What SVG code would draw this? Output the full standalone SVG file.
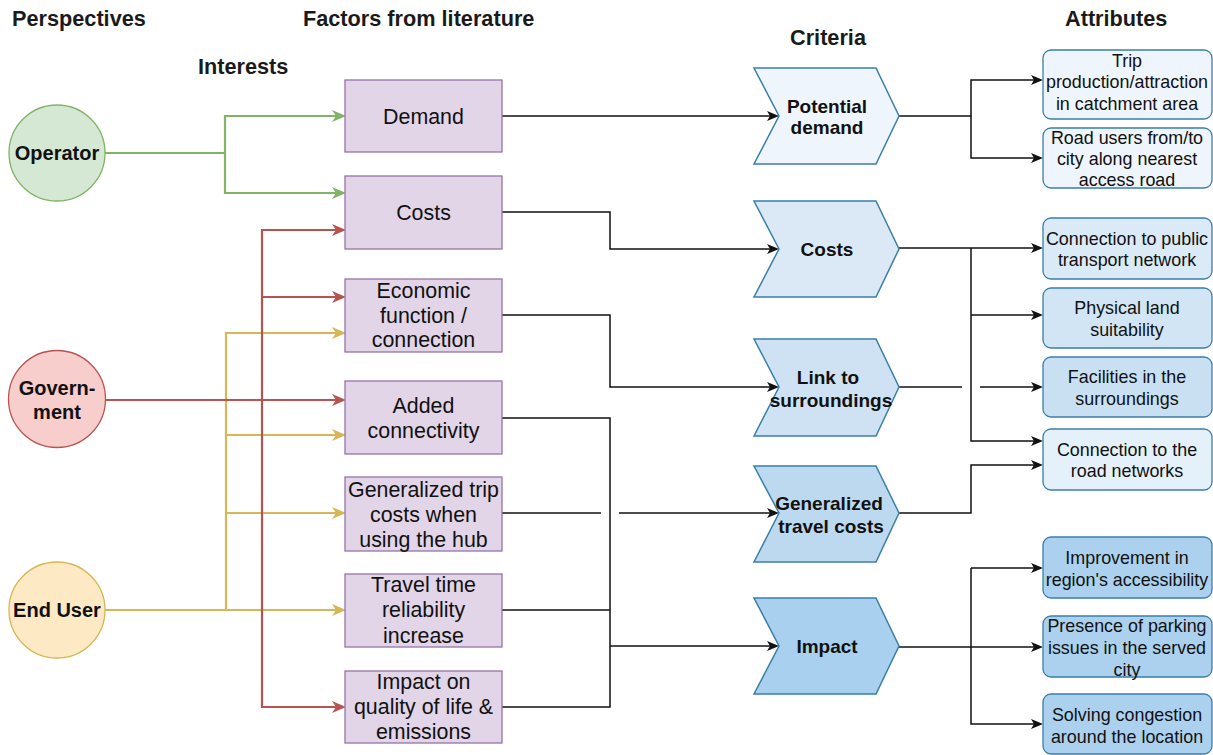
<svg xmlns="http://www.w3.org/2000/svg" width="1213" height="755" viewBox="0 0 1213 755">
<style>
.title{font-family:"Liberation Sans",Arial,sans-serif;font-weight:bold;font-size:21.7px;fill:#1a1a1a}
.circ{font-family:"Liberation Sans",Arial,sans-serif;font-weight:bold;font-size:20px;fill:#111;text-anchor:middle}
.fac{fill:#e1d5e7;stroke:#9673a6;stroke-width:1.3}
.factxt{font-family:"Liberation Sans",Arial,sans-serif;font-size:21.4px;fill:#111;text-anchor:middle}
.crit{stroke:#3b7fa7;stroke-width:1.5}
.crittxt{font-family:"Liberation Sans",Arial,sans-serif;font-weight:bold;font-size:19px;fill:#111;text-anchor:middle}
.att{stroke:#3b7fa7;stroke-width:1.3}
.atttxt{font-family:"Liberation Sans",Arial,sans-serif;font-size:17.9px;fill:#111;text-anchor:middle}
.g{fill:none;stroke:#82b366;stroke-width:2.2}
.r{fill:none;stroke:#b85450;stroke-width:2.2}
.y{fill:none;stroke:#d6b656;stroke-width:2.2}
.k{fill:none;stroke:#111;stroke-width:1.5}
</style>
<defs>
<marker id="ag" markerUnits="userSpaceOnUse" viewBox="0 0 14 12" markerWidth="14" markerHeight="12" refX="7" refY="6" orient="auto"><path d="M0,0 L14,6 L0,12 L4,6 z" fill="#82b366"/></marker>
<marker id="ar" markerUnits="userSpaceOnUse" viewBox="0 0 14 12" markerWidth="14" markerHeight="12" refX="7" refY="6" orient="auto"><path d="M0,0 L14,6 L0,12 L4,6 z" fill="#b85450"/></marker>
<marker id="ay" markerUnits="userSpaceOnUse" viewBox="0 0 14 12" markerWidth="14" markerHeight="12" refX="7" refY="6" orient="auto"><path d="M0,0 L14,6 L0,12 L4,6 z" fill="#d6b656"/></marker>
<marker id="ak" markerUnits="userSpaceOnUse" viewBox="0 0 12 10" markerWidth="12" markerHeight="10" refX="6" refY="5" orient="auto"><path d="M0,0 L12,5 L0,10 L3,5 z" fill="#111"/></marker>
</defs>
<rect width="1213" height="755" fill="#ffffff"/>

<g id="titles">
<text class="title" x="12" y="26">Perspectives</text>
<text class="title" x="303" y="26">Factors from literature</text>
<text class="title" x="198" y="74">Interests</text>
<text class="title" x="790" y="45">Criteria</text>
<text class="title" x="1065" y="26">Attributes</text>
</g>

<g id="connectors">
<path class="g" d="M105,153 H225 V116 H339" marker-end="url(#ag)"/>
<path class="g" d="M225,153 V193 H339" marker-end="url(#ag)"/>
<path class="y" d="M105,610 H339" marker-end="url(#ay)"/>
<path class="y" d="M226,610 V333 H339" marker-end="url(#ay)"/>
<path class="y" d="M226,435 H339" marker-end="url(#ay)"/>
<path class="y" d="M226,513 H339" marker-end="url(#ay)"/>
<path class="r" d="M105,400 H339" marker-end="url(#ar)"/>
<path class="r" d="M262,400 V230 H339" marker-end="url(#ar)"/>
<path class="r" d="M262,297 H339" marker-end="url(#ar)"/>
<path class="r" d="M262,400 V707 H339" marker-end="url(#ar)"/>
<path class="k" d="M502,116 H773" marker-end="url(#ak)"/>
<path class="k" d="M502,212 H610 V249 H773" marker-end="url(#ak)"/>
<path class="k" d="M502,315 H610 V387 H773" marker-end="url(#ak)"/>
<path class="k" d="M502,418 H610 V707 H502"/>
<path class="k" d="M502,610 H610"/>
<path class="k" d="M610,646 H773" marker-end="url(#ak)"/>
<path class="k" d="M502,513 H601"/>
<path class="k" d="M619,513 H773" marker-end="url(#ak)"/>
<path class="k" d="M899,116 H971 V80 H1037" marker-end="url(#ak)"/>
<path class="k" d="M971,116 V158 H1037" marker-end="url(#ak)"/>
<path class="k" d="M899,248 H1037" marker-end="url(#ak)"/>
<path class="k" d="M971,248 V441 H1037" marker-end="url(#ak)"/>
<path class="k" d="M971,315 H1037" marker-end="url(#ak)"/>
<path class="k" d="M899,387 H962"/>
<path class="k" d="M980,387 H1037" marker-end="url(#ak)"/>
<path class="k" d="M899,513 H971 V465 H1037" marker-end="url(#ak)"/>
<path class="k" d="M899,647 H1037" marker-end="url(#ak)"/>
<path class="k" d="M971,568 H1037" marker-end="url(#ak)"/>
<path class="k" d="M971,568 V724 H1037" marker-end="url(#ak)"/>
</g>

<g id="operator"><circle cx="57" cy="153" r="48" fill="#d5e8d4" stroke="#82b366" stroke-width="1.3"/><text class="circ" x="57" y="160">Operator</text></g>
<g id="government"><circle cx="57" cy="399" r="48.5" fill="#f8cecc" stroke="#b85450" stroke-width="1.3"/><text class="circ" x="57" y="395">Govern-</text><text class="circ" x="57" y="419">ment</text></g>
<g id="enduser"><circle cx="57" cy="610" r="48" fill="#fde9c3" stroke="#d6b656" stroke-width="1.3"/><text class="circ" x="57" y="617">End User</text></g>

<g id="f-demand"><rect class="fac" x="345" y="80" width="157" height="72"/><text class="factxt" x="423.5" y="123.5">Demand</text></g>
<g id="f-costs"><rect class="fac" x="345" y="176" width="157" height="73"/><text class="factxt" x="423.5" y="219.5">Costs</text></g>
<g id="f-economic"><rect class="fac" x="345" y="279" width="157" height="73"/><text class="factxt" x="423.5" y="298">Economic</text><text class="factxt" x="423.5" y="322.5">function /</text><text class="factxt" x="423.5" y="347">connection</text></g>
<g id="f-added"><rect class="fac" x="345" y="381" width="157" height="73"/><text class="factxt" x="423.5" y="412.5">Added</text><text class="factxt" x="423.5" y="438">connectivity</text></g>
<g id="f-gentrip"><rect class="fac" x="345" y="477" width="157" height="74"/><text class="factxt" x="423.5" y="496.5">Generalized trip</text><text class="factxt" x="423.5" y="521.5">costs when</text><text class="factxt" x="423.5" y="546.5">using the hub</text></g>
<g id="f-travel"><rect class="fac" x="345" y="574" width="157" height="73"/><text class="factxt" x="423.5" y="591.5">Travel time</text><text class="factxt" x="423.5" y="617">reliability</text><text class="factxt" x="423.5" y="642.5">increase</text></g>
<g id="f-impact"><rect class="fac" x="345" y="671" width="157" height="72"/><text class="factxt" x="423.5" y="688.5">Impact on</text><text class="factxt" x="423.5" y="714">quality of life &amp;</text><text class="factxt" x="423.5" y="738.5">emissions</text></g>

<g id="c-potential"><polygon class="crit" fill="#eef5fc" points="754,68 876,68 899,116 876,164 754,164 779,116"/><text class="crittxt" x="827" y="113">Potential</text><text class="crittxt" x="827" y="134">demand</text></g>
<g id="c-costs"><polygon class="crit" fill="#dbe9f6" points="754,201 876,201 899,249 876,297 754,297 779,249"/><text class="crittxt" x="827" y="256">Costs</text></g>
<g id="c-link"><polygon class="crit" fill="#cfe2f3" points="754,339 876,339 899,387 876,436 754,436 779,387"/><text class="crittxt" x="828" y="384">Link to</text><text class="crittxt" x="831" y="407">surroundings</text></g>
<g id="c-gentravel"><polygon class="crit" fill="#bcd9ef" points="754,466 876,466 899,513 876,562 754,562 779,513"/><text class="crittxt" x="829" y="510">Generalized</text><text class="crittxt" x="831" y="533">travel costs</text></g>
<g id="c-impact"><polygon class="crit" fill="#a9d0ee" points="754,598 876,598 899,646 876,694 754,694 779,646"/><text class="crittxt" x="827" y="653">Impact</text></g>

<g id="a-trip"><rect class="att" fill="#eef5fc" x="1043" y="50" width="169" height="69" rx="8"/><text class="atttxt" x="1127" y="67">Trip</text><text class="atttxt" x="1127" y="88">production/attraction</text><text class="atttxt" x="1127" y="110">in catchment area</text></g>
<g id="a-road"><rect class="att" fill="#eef5fc" x="1043" y="128" width="169" height="60" rx="8"/><text class="atttxt" x="1127" y="144">Road users from/to</text><text class="atttxt" x="1127" y="165">city along nearest</text><text class="atttxt" x="1127" y="186">access road</text></g>
<g id="a-pt"><rect class="att" fill="#dbeaf7" x="1043" y="218" width="169" height="61" rx="8"/><text class="atttxt" x="1127" y="245">Connection to public</text><text class="atttxt" x="1127" y="266">transport network</text></g>
<g id="a-land"><rect class="att" fill="#d2e5f4" x="1043" y="288" width="169" height="60" rx="8"/><text class="atttxt" x="1127" y="314">Physical land</text><text class="atttxt" x="1127" y="336">suitability</text></g>
<g id="a-facilities"><rect class="att" fill="#c9e0f3" x="1043" y="357" width="169" height="60" rx="8"/><text class="atttxt" x="1127" y="383">Facilities in the</text><text class="atttxt" x="1127" y="405">surroundings</text></g>
<g id="a-roadnet"><rect class="att" fill="#e4f0fa" x="1043" y="429" width="169" height="61" rx="8"/><text class="atttxt" x="1127" y="456">Connection to the</text><text class="atttxt" x="1127" y="477">road networks</text></g>
<g id="a-improve"><rect class="att" fill="#abd1ef" x="1043" y="537" width="169" height="61" rx="8"/><text class="atttxt" x="1127" y="564">Improvement in</text><text class="atttxt" x="1127" y="586">region's accessibility</text></g>
<g id="a-parking"><rect class="att" fill="#abd1ef" x="1043" y="616" width="169" height="61" rx="8"/><text class="atttxt" x="1127" y="632">Presence of parking</text><text class="atttxt" x="1127" y="654">issues in the served</text><text class="atttxt" x="1127" y="676">city</text></g>
<g id="a-congestion"><rect class="att" fill="#abd1ef" x="1043" y="694" width="169" height="60" rx="8"/><text class="atttxt" x="1127" y="721">Solving congestion</text><text class="atttxt" x="1127" y="743">around the location</text></g>
</svg>
